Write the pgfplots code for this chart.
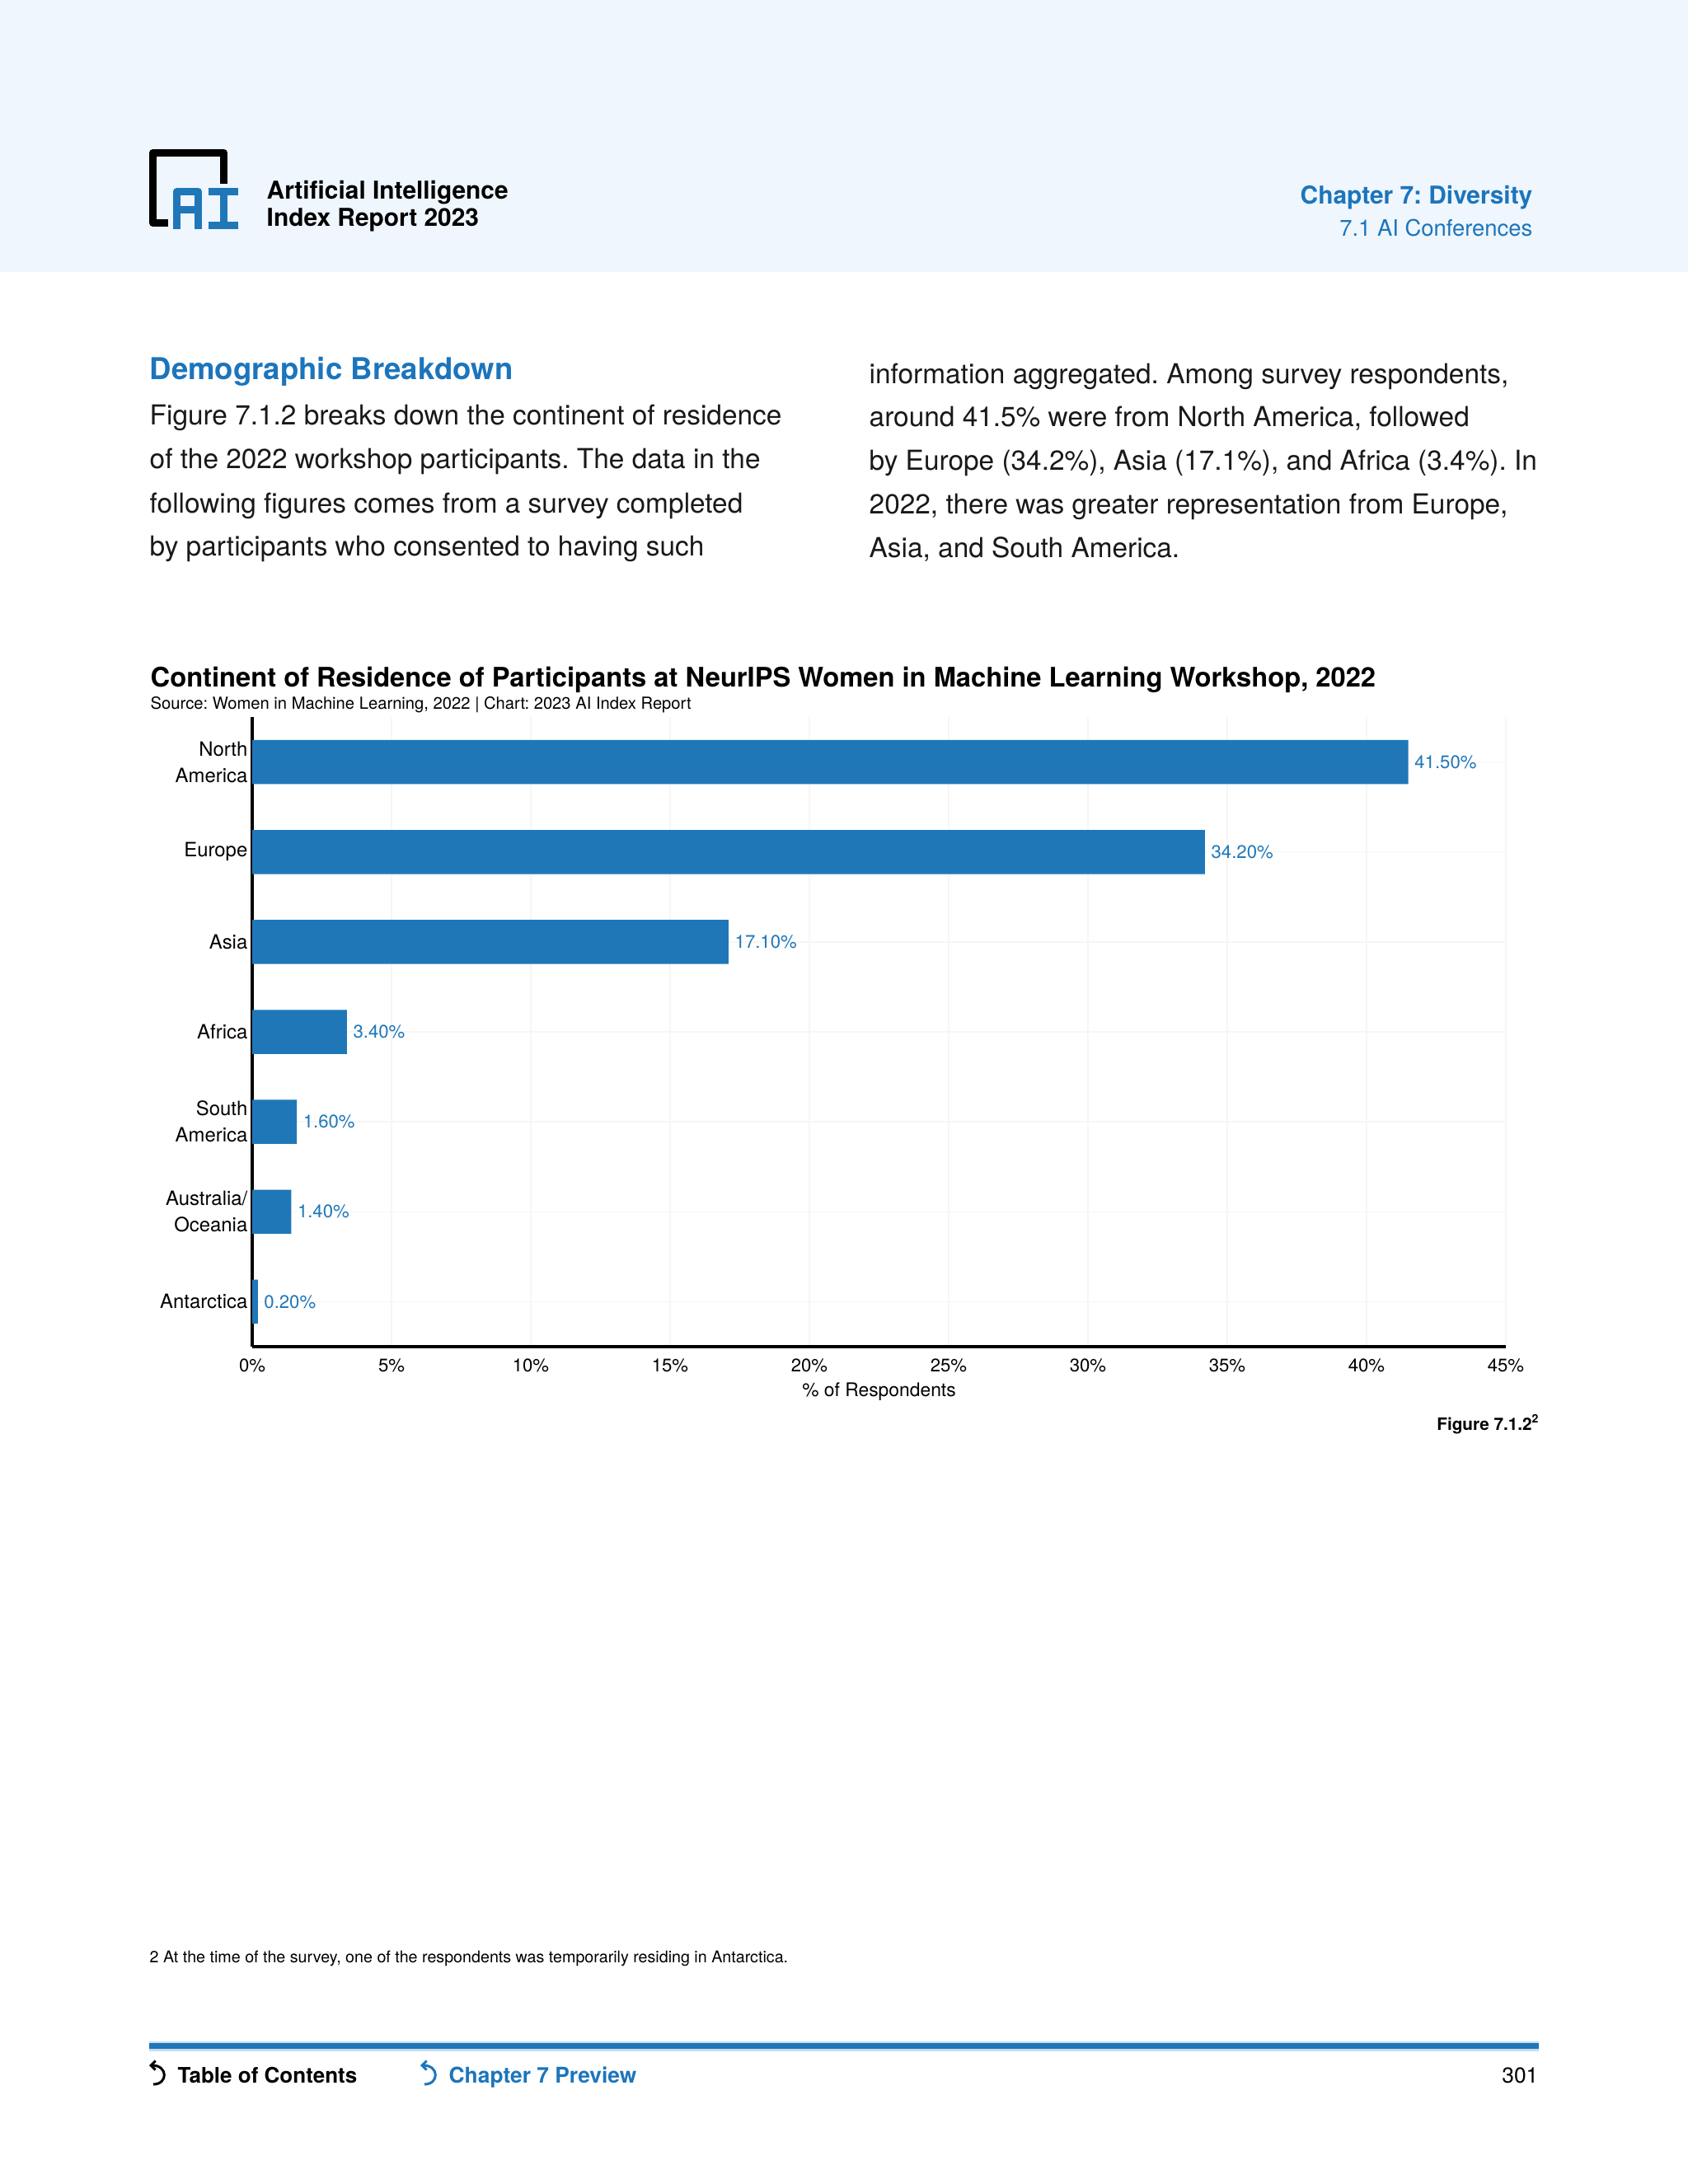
\documentclass[border=0pt]{standalone}
\usepackage{fontspec}
\setmainfont{TeX Gyre Heros}
\usepackage{pgfplots}
\pgfplotsset{compat=1.18}
\usetikzlibrary{arrows.meta}
\definecolor{barblue}{RGB}{31,119,184}
\definecolor{hdrbg}{RGB}{239,246,253}
\definecolor{txtblue}{RGB}{28,117,188}
\definecolor{gridc}{RGB}{246,246,246}
\definecolor{bodyc}{RGB}{25,25,25}
\frenchspacing
\begin{document}
\frenchspacing
\begin{tikzpicture}[x=1mm,y=1mm]
\fill[white] (0,0) rectangle (204.8,-265);
\useasboundingbox (0,0) rectangle (204.8,-265);
\fill[hdrbg] (0,0) rectangle (204.8,-33);
% logo
\draw[line width=0.9mm, line join=round] (20.4,-27.05) -- (18.55,-27.05) -- (18.55,-18.55) -- (27.15,-18.55) -- (27.15,-22.3);
\draw[line width=0.9mm, barblue, line join=round] (21.45,-27.75) -- (21.45,-23.25) -- (24.05,-23.25) -- (24.05,-27.75);
\draw[line width=0.9mm, barblue] (21.45,-25.4) -- (24.05,-25.4);
\draw[line width=0.9mm, barblue] (25.3,-23.25) -- (28.9,-23.25) (25.3,-27.3) -- (28.9,-27.3) (27.1,-23.25) -- (27.1,-27.3);
\node[anchor=base west, inner sep=0] at (32.3,-24.1) {\fontsize{8.5}{10}\selectfont\bfseries Artificial Intelligence};
\node[anchor=base west, inner sep=0] at (32.3,-27.4) {\fontsize{8.5}{10}\selectfont\bfseries Index Report 2023};
\node[anchor=base east, inner sep=0, text=txtblue] at (186.0,-24.7) {\fontsize{8.5}{10}\selectfont\bfseries Chapter 7: Diversity};
\node[anchor=base east, inner sep=0, text=txtblue] at (186.0,-28.6) {\fontsize{7.8}{9}\selectfont 7.1 AI Conferences};
% section text
\node[anchor=base west, inner sep=0, text=txtblue] at (18.1,-46.0) {\fontsize{10.4}{12}\selectfont\bfseries Demographic Breakdown};
\begin{scope}[every node/.style={anchor=base west, inner sep=0, text=bodyc, font=\fontsize{9.5}{11}\selectfont\frenchspacing}]
\node at (18.1,-51.5) {Figure 7.1.2 breaks down the continent of residence};
\node at (18.1,-56.8) {of the 2022 workshop participants. The data in the};
\node at (18.1,-62.2) {following figures comes from a survey completed};
\node at (18.1,-67.4) {by participants who consented to having such};
\node at (105.4,-46.5) {information aggregated. Among survey respondents,};
\node at (105.4,-51.7) {around 41.5\% were from North America, followed};
\node at (105.4,-57.0) {by Europe (34.2\%), Asia (17.1\%), and Africa (3.4\%). In};
\node at (105.4,-62.3) {2022, there was greater representation from Europe,};
\node at (105.4,-67.6) {Asia, and South America.};
\end{scope}
% chart titles
\node[anchor=base west, inner sep=0] at (18.2,-83.3) {\fontsize{9.3}{11}\selectfont\bfseries Continent of Residence of Participants at NeurIPS Women in Machine Learning Workshop, 2022};
\node[anchor=base west, inner sep=0] at (18.2,-86.0) {\fontsize{5.75}{7}\selectfont\frenchspacing Source: Women in Machine Learning, 2022 | Chart: 2023 AI Index Report};
\begin{axis}[
  at={(30.6mm,-163.4mm)}, anchor=south west,
  scale only axis, width=152.1mm, height=76.4mm,
  xbar, bar width=5.35mm,
  xmin=0, xmax=45, ymin=-0.5, ymax=6.5,
  xtick={0,5,...,45}, ytick={0,...,6},
  yticklabels={Antarctica,{Australia/\\Oceania},{South\\America},Africa,Asia,Europe,{North\\America}},
  axis x line=bottom, axis y line=left,
  axis line style={-, black, line width=1.1pt},
  major tick length=0pt,
  xmajorgrids, ymajorgrids,
  grid style={gridc, line width=0.4pt},
  /pgf/number format/assume math mode=true,
  xticklabel={\pgfmathprintnumber{\tick}\%},
  xticklabel style={inner sep=0pt, anchor=north, yshift=-1.45mm, font=\fontsize{6.3}{7}\selectfont},
  yticklabel style={inner sep=0pt, anchor=east, xshift=-0.5mm, align=right, font=\fontsize{6.8}{9.1}\selectfont},
  xlabel={\% of Respondents},
  xlabel style={at={(axis description cs:0.5,0)}, anchor=base, yshift=-6.0mm, inner sep=0pt, font=\fontsize{6.5}{8}\selectfont},
  point meta=x,
  nodes near coords={\pgfmathprintnumber[fixed,fixed zerofill,precision=2]{\pgfplotspointmeta}\%},
  every node near coord/.append style={anchor=west, inner sep=0pt, xshift=0.7mm, text=barblue, font=\fontsize{6.3}{7}\selectfont},
]
\addplot[fill=barblue, draw=none] coordinates {(0.2,0) (1.4,1) (1.6,2) (3.4,3) (17.1,4) (34.2,5) (41.5,6)};
\end{axis}
\node[anchor=base east, inner sep=0] at (186.9,-173.5) {\fontsize{5.9}{7}\selectfont\bfseries Figure 7.1.2\textsuperscript{\fontsize{4}{5}\selectfont 2}};
% footnote
\node[anchor=base west, inner sep=0] at (18.1,-238.1) {\fontsize{5.6}{7}\selectfont 2 At the time of the survey, one of the respondents was temporarily residing in Antarctica.};
% footer
\draw[line width=1.2mm, barblue!25] (18.1,-248.25) -- (186.7,-248.25);
\draw[line width=0.7mm, barblue] (18.1,-248.25) -- (186.7,-248.25);
\draw[line width=0.3mm, -{Straight Barb[length=0.55mm,width=1.1mm]}] (18.6,-252.9) .. controls (20.4,-252.9) and (20.4,-250.6) .. (18.1,-250.6);
\draw[line width=0.3mm, txtblue, -{Straight Barb[length=0.55mm,width=1.1mm]}] (51.5,-252.9) .. controls (53.3,-252.9) and (53.3,-250.6) .. (51.0,-250.6);
\node[anchor=base west, inner sep=0] at (21.5,-252.7) {\fontsize{7.4}{9}\selectfont\bfseries Table of Contents};
\node[anchor=base west, inner sep=0, text=txtblue] at (54.4,-252.7) {\fontsize{7.5}{9}\selectfont\bfseries Chapter 7 Preview};
\node[anchor=base east, inner sep=0] at (186.7,-252.7) {\fontsize{7.5}{9}\selectfont 301};
\end{tikzpicture}
\end{document}
